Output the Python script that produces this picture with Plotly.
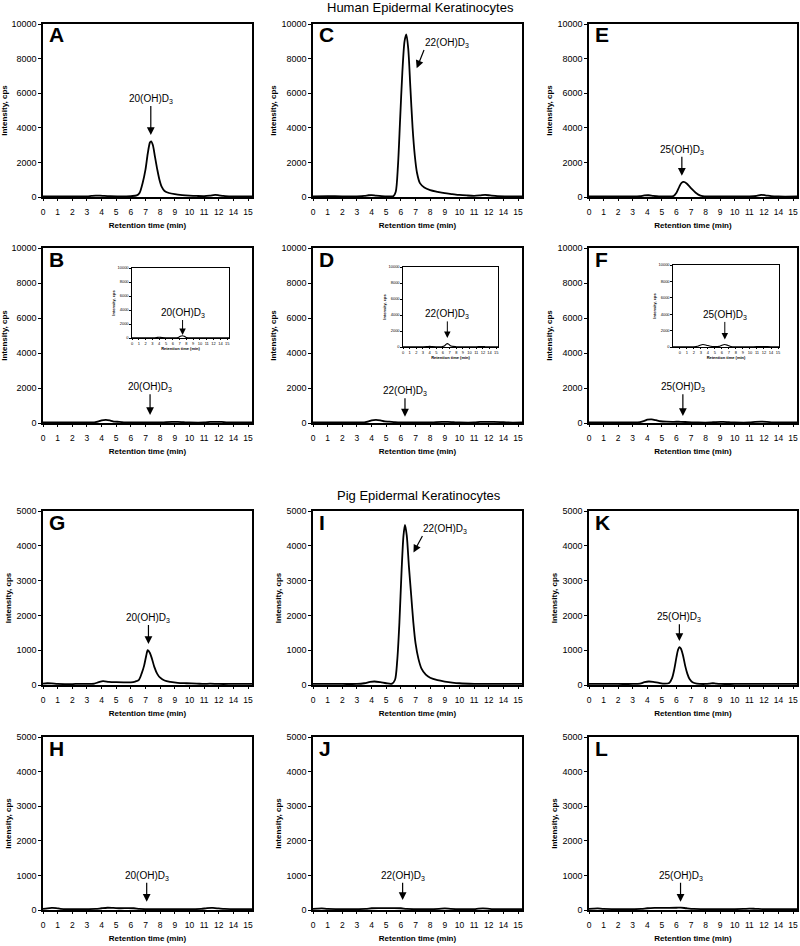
import plotly.graph_objects as go

W, H = 800, 946
FONT = "Liberation Sans, Arial, sans-serif"

# ---------------- tick labels ----------------
X_TICK_POS = list(range(15))
X_TICK_LABELS = ["0", "1", "2", "3", "4", "5", "6", "7", "8", "9", "10", "11", "12", "14", "15"]
Y_TICKS_HUMAN = [0, 2000, 4000, 6000, 8000, 10000]
Y_TICKS_PIG = [0, 1000, 2000, 3000, 4000, 5000]

# ---------------- series (x in tick-label positions, y in cps) ----------------
A_x = [0, 1, 2, 3, 3.3, 3.6, 3.9, 4.2, 4.6, 5.2, 6.0, 6.4, 6.6, 6.8, 7.0, 7.15, 7.3, 7.38, 7.5, 7.65, 7.8, 7.95, 8.1, 8.3, 8.6, 9.0, 9.5, 10.0, 10.5, 11.0, 11.4, 11.75, 12.0, 12.3, 12.7, 13.3, 14.27]
A_y = [30, 30, 30, 35, 60, 80, 75, 60, 45, 40, 55, 90, 250, 800, 1600, 2500, 3150, 3220, 3000, 2300, 1600, 1000, 600, 350, 230, 160, 110, 80, 60, 50, 80, 120, 100, 60, 40, 30, 30]

C_x = [0, 1, 2, 3, 3.5, 3.8, 4.0, 4.3, 4.7, 5.2, 5.5, 5.65, 5.8, 5.95, 6.1, 6.25, 6.37, 6.5, 6.65, 6.8, 6.95, 7.1, 7.3, 7.6, 8.0, 8.5, 9.0, 9.5, 10.0, 10.5, 11.0, 11.4, 11.75, 12.1, 12.6, 13.2, 14.27]
C_y = [40, 50, 40, 40, 60, 100, 110, 80, 50, 40, 60, 300, 1800, 4500, 7200, 9000, 9400, 8600, 6300, 4000, 2400, 1400, 800, 550, 400, 300, 220, 170, 120, 90, 70, 90, 120, 90, 50, 40, 40]

E_x = [0, 1, 2, 3, 3.5, 3.8, 4.1, 4.4, 4.8, 5.4, 5.8, 6.0, 6.2, 6.35, 6.5, 6.7, 6.9, 7.1, 7.3, 7.5, 7.8, 8.2, 9, 10, 11, 11.5, 11.8, 12.1, 12.5, 13, 14.27]
E_y = [30, 30, 30, 30, 50, 90, 100, 70, 40, 30, 60, 250, 600, 820, 870, 780, 600, 420, 260, 140, 50, 30, 30, 30, 30, 60, 120, 100, 50, 30, 30]

B_x = [0, 1, 2, 3, 3.5, 3.8, 4.0, 4.3, 4.6, 4.9, 5.2, 5.6, 6.0, 7.0, 8.0, 8.4, 8.8, 9.2, 9.6, 10.0, 11.0, 11.4, 11.8, 12.2, 12.6, 13.2, 14.27]
B_y = [30, 30, 30, 30, 40, 90, 150, 180, 140, 80, 70, 40, 30, 30, 30, 50, 60, 60, 45, 30, 30, 60, 70, 60, 35, 30, 30]

D_x = [0, 1, 2, 3, 3.5, 3.8, 4.0, 4.3, 4.6, 4.9, 5.2, 5.6, 6.0, 7.0, 8.0, 8.4, 8.8, 9.2, 9.6, 10.0, 11.0, 11.4, 11.8, 12.2, 12.8, 13.3, 14.27]
D_y = [30, 30, 30, 30, 40, 90, 150, 180, 150, 90, 75, 45, 30, 30, 30, 50, 60, 60, 45, 30, 30, 60, 70, 65, 55, 30, 30]

F_x = [0, 1, 2, 3, 3.5, 3.8, 4.0, 4.3, 4.6, 4.9, 5.3, 5.8, 6.3, 6.8, 7.5, 8.3, 8.7, 9.2, 9.6, 10.0, 11.0, 11.4, 11.8, 12.2, 12.6, 13.2, 14.27]
F_y = [30, 30, 30, 30, 50, 120, 190, 210, 160, 100, 75, 70, 70, 50, 30, 30, 55, 60, 45, 30, 30, 70, 80, 70, 35, 30, 30]

G_x = [0, 0.3, 0.6, 1.0, 1.5, 2, 2.5, 3.0, 3.5, 3.8, 4.1, 4.5, 5.0, 5.5, 6.0, 6.3, 6.55, 6.75, 6.9, 7.05, 7.15, 7.3, 7.45, 7.6, 7.8, 8.0, 8.3, 8.7, 9.2, 9.8, 10.5, 11.0, 11.4, 12, 13, 14.27]
G_y = [40, 50, 45, 30, 25, 25, 35, 30, 40, 80, 110, 90, 80, 75, 75, 100, 150, 350, 550, 850, 1000, 920, 740, 520, 320, 210, 130, 90, 60, 50, 40, 30, 40, 30, 30, 30]

I_x = [0, 1, 2, 3, 3.5, 3.9, 4.2, 4.6, 5.0, 5.4, 5.6, 5.75, 5.9, 6.05, 6.18, 6.28, 6.4, 6.55, 6.7, 6.85, 7.0, 7.2, 7.4, 7.7, 8.0, 8.5, 9.0, 9.5, 10, 11, 12, 13, 14.27]
I_y = [30, 30, 30, 30, 50, 90, 100, 80, 50, 40, 150, 700, 1800, 3300, 4300, 4600, 4300, 3400, 2600, 1800, 1200, 750, 480, 300, 210, 140, 100, 70, 50, 35, 30, 30, 30]

K_x = [0, 1, 2, 3, 3.5, 3.8, 4.1, 4.4, 4.8, 5.2, 5.5, 5.7, 5.85, 6.0, 6.1, 6.2, 6.3, 6.45, 6.6, 6.75, 6.9, 7.1, 7.4, 8.0, 8.3, 8.5, 8.7, 9.0, 10, 11, 12, 13, 14.27]
K_y = [30, 30, 30, 30, 40, 80, 100, 90, 60, 40, 60, 200, 450, 800, 1000, 1090, 1050, 850, 550, 320, 170, 80, 40, 30, 40, 50, 40, 30, 30, 30, 30, 30, 30]

H_x = [0, 0.3, 0.6, 0.9, 1.2, 2, 3, 3.6, 4.0, 4.4, 4.8, 5.3, 5.8, 6.2, 6.6, 7, 8, 9, 10, 10.8, 11.2, 11.6, 12.0, 12.4, 13, 14.27]
H_y = [30, 50, 60, 55, 30, 25, 25, 30, 50, 65, 60, 50, 55, 50, 30, 25, 25, 25, 25, 30, 55, 60, 45, 30, 25, 25]

J_x = [0, 0.3, 0.6, 1.0, 2, 3, 3.6, 4.0, 4.5, 5.0, 5.5, 6.0, 6.4, 7, 8, 8.6, 9.0, 9.4, 10, 11, 11.3, 11.6, 11.9, 12.3, 13, 14.27]
J_y = [30, 40, 45, 30, 25, 25, 30, 50, 55, 55, 55, 50, 30, 25, 25, 35, 45, 35, 25, 25, 40, 45, 40, 25, 25, 25]

L_x = [0, 0.3, 0.6, 1.0, 2, 3, 3.6, 4.0, 4.5, 5.0, 5.5, 6.0, 6.3, 6.7, 7.2, 8, 9, 10, 10.6, 11.0, 11.4, 12, 13, 14.27]
L_y = [30, 40, 45, 30, 25, 25, 30, 50, 60, 60, 60, 65, 70, 50, 30, 25, 25, 25, 30, 40, 35, 25, 25, 25]

Bi_x = [0, 1, 2, 3, 3.6, 4.0, 4.4, 5.0, 6.0, 6.8, 7.1, 7.4, 7.7, 8.0, 9, 10, 11, 12, 13, 14.27]
Bi_y = [30, 30, 30, 30, 60, 110, 70, 40, 30, 80, 250, 330, 250, 70, 30, 30, 30, 30, 30, 30]

Di_x = [0, 1, 2, 3, 3.6, 4.0, 4.4, 5.0, 5.8, 6.2, 6.45, 6.66, 6.9, 7.2, 8, 9, 11, 11.6, 12.0, 12.4, 13, 14.27]
Di_y = [30, 30, 30, 30, 50, 80, 60, 40, 40, 120, 330, 420, 330, 120, 40, 30, 30, 50, 60, 40, 30, 30]

Fi_x = [-0.96, 0, 1, 2, 2.5, 2.9, 3.3, 3.8, 4.4, 5.0, 5.6, 6.0, 6.4, 6.8, 7.3, 8, 9, 10, 11, 12, 13, 14.14]
Fi_y = [30, 30, 30, 30, 80, 220, 300, 220, 100, 60, 80, 220, 300, 220, 60, 30, 30, 30, 40, 50, 30, 30]

# ---------------- layout geometry (pixels) ----------------
COL_L = [43, 313, 589]
COL_R = [252, 522, 797]
ROW_T = [24, 248, 511, 737]
ROW_B = [197, 423, 685, 910]
XR_MAIN = [0, 14.27]


def dom_x(l, r):
    return [l / W, r / W]


def dom_y(t, b):
    return [1 - b / H, 1 - t / H]


panels = [
    # key, x, y, row, col, ymax, yticks, label(text, tailx, taily, tipx, tipy, xanchor)
    ("A", A_x, A_y, 0, 0, 10000, Y_TICKS_HUMAN, ("20(OH)D<sub>3</sub>", 7.36, 5260, 7.36, 3584, "center")),
    ("C", C_x, C_y, 0, 1, 10000, Y_TICKS_HUMAN, ("22(OH)D<sub>3</sub>", 7.58, 8497, 7.08, 7439, "left")),
    ("E", E_x, E_y, 0, 2, 10000, Y_TICKS_HUMAN, ("25(OH)D<sub>3</sub>", 6.37, 2329, 6.37, 1231, "center")),
    ("B", B_x, B_y, 1, 0, 10000, Y_TICKS_HUMAN, ("20(OH)D<sub>3</sub>", 7.31, 1650, 7.31, 457, "center")),
    ("D", D_x, D_y, 1, 1, 10000, Y_TICKS_HUMAN, ("22(OH)D<sub>3</sub>", 6.28, 1410, 6.28, 362, "center")),
    ("F", F_x, F_y, 1, 2, 10000, Y_TICKS_HUMAN, ("25(OH)D<sub>3</sub>", 6.44, 1650, 6.44, 400, "center")),
    ("G", G_x, G_y, 2, 0, 5000, Y_TICKS_PIG, ("20(OH)D<sub>3</sub>", 7.2, 1724, 7.2, 1178, "center")),
    ("I", I_x, I_y, 2, 1, 5000, Y_TICKS_PIG, ("22(OH)D<sub>3</sub>", 7.47, 4282, 6.86, 3804, "left")),
    ("K", K_x, K_y, 2, 2, 5000, Y_TICKS_PIG, ("25(OH)D<sub>3</sub>", 6.2, 1744, 6.2, 1264, "center")),
    ("H", H_x, H_y, 3, 0, 5000, Y_TICKS_PIG, ("20(OH)D<sub>3</sub>", 7.08, 789, 7.08, 240, "center")),
    ("J", J_x, J_y, 3, 1, 5000, Y_TICKS_PIG, ("22(OH)D<sub>3</sub>", 6.12, 789, 6.12, 289, "center")),
    ("L", L_x, L_y, 3, 2, 5000, Y_TICKS_PIG, ("25(OH)D<sub>3</sub>", 6.28, 789, 6.28, 240, "center")),
]

insets = [
    # x, y, (l, r, t, b) px, xrange, label
    (Bi_x, Bi_y, (132, 229, 268, 338), [0, 14.27], ("20(OH)D<sub>3</sub>", 7.44, 2571, 7.44, 430, "center")),
    (Di_x, Di_y, (403, 498, 267, 347), [0, 14.27], ("22(OH)D<sub>3</sub>", 6.66, 3200, 6.66, 1125, "center")),
    (Fi_x, Fi_y, (673, 779, 265, 347), [-0.96, 14.14], ("25(OH)D<sub>3</sub>", 6.42, 3060, 6.42, 906, "center")),
]

fig = go.Figure()
layout = dict(
    width=W, height=H, margin=dict(l=0, r=0, t=0, b=0),
    paper_bgcolor="white", plot_bgcolor="white", showlegend=False,
    template="none", font=dict(family=FONT, color="black"),
)
annotations = []


def add_label(ax_i, spec, fsize, asize, awidth):
    text, qx, qy, px_, py_, xanc = spec
    xr = "x" if ax_i == 1 else f"x{ax_i}"
    yr = "y" if ax_i == 1 else f"y{ax_i}"
    annotations.append(dict(x=px_, y=py_, ax=qx, ay=qy, xref=xr, yref=yr, axref=xr, ayref=yr,
                            text=text, xanchor=xanc, yanchor="bottom", borderpad=0,
                            font=dict(size=fsize, family=FONT, color="black"),
                            showarrow=True, arrowhead=2, arrowsize=asize,
                            arrowwidth=awidth, arrowcolor="black", standoff=0, startstandoff=0))


for i, (key, xs, ys, r, c, ymax, yt, lab) in enumerate(panels, start=1):
    xa = "xaxis" if i == 1 else f"xaxis{i}"
    ya = "yaxis" if i == 1 else f"yaxis{i}"
    fig.add_trace(go.Scatter(x=xs, y=ys, mode="lines", line=dict(color="black", width=1.8, shape="spline", smoothing=0.8),
                             xaxis="x" if i == 1 else f"x{i}", yaxis="y" if i == 1 else f"y{i}", hoverinfo="skip"))
    layout[xa] = dict(
        domain=dom_x(COL_L[c], COL_R[c]), anchor="y" if i == 1 else f"y{i}",
        range=XR_MAIN, tickvals=X_TICK_POS, ticktext=X_TICK_LABELS, tickangle=0,
        showline=True, linecolor="black", linewidth=1.5, mirror=True,
        ticks="outside", ticklen=2, tickcolor="black", showgrid=False, zeroline=False,
        tickfont=dict(size=8.5, family=FONT), ticklabelstandoff=4, automargin=False,
        title=dict(text="<b>Retention time (min)</b>", font=dict(size=8, family=FONT), standoff=6),
    )
    layout[ya] = dict(
        domain=dom_y(ROW_T[r], ROW_B[r]), anchor="x" if i == 1 else f"x{i}",
        range=[0, ymax], tickvals=yt, ticktext=[str(v) for v in yt],
        showline=True, linecolor="black", linewidth=1.5, mirror=True,
        ticks="outside", ticklen=3, tickcolor="black", showgrid=False, zeroline=False,
        tickfont=dict(size=9, family=FONT), automargin=False,
        title=dict(text="<b>Intensity, cps</b>", font=dict(size=8, family=FONT), standoff=4),
    )
    annotations.append(dict(x=(COL_L[c] + 4) / W, y=1 - (ROW_T[r] + 11) / H, xref="paper", yref="paper",
                            text=f"<b>{key}</b>", showarrow=False, xanchor="left", yanchor="middle",
                            font=dict(size=21, family=FONT, color="black")))
    add_label(i, lab, 10, 1.3, 1.2)

for j, (xs, ys, (l, rr, t, b), xr, lab) in enumerate(insets, start=13):
    fig.add_trace(go.Scatter(x=xs, y=ys, mode="lines", line=dict(color="black", width=1.1, shape="spline", smoothing=0.8),
                             xaxis=f"x{j}", yaxis=f"y{j}", hoverinfo="skip"))
    layout[f"xaxis{j}"] = dict(
        domain=dom_x(l, rr), anchor=f"y{j}", range=xr, tickvals=X_TICK_POS, ticktext=X_TICK_LABELS,
        tickangle=0,
        showline=True, linecolor="black", linewidth=1.2, mirror=True,
        ticks="outside", ticklen=1, tickcolor="black", showgrid=False, zeroline=False,
        tickfont=dict(size=4, family=FONT), automargin=False,
        title=dict(text="<b>Retention time (min)</b>", font=dict(size=4, family=FONT), standoff=2),
    )
    layout[f"yaxis{j}"] = dict(
        domain=dom_y(t, b), anchor=f"x{j}", range=[0, 10000], tickvals=Y_TICKS_HUMAN,
        ticktext=[str(v) for v in Y_TICKS_HUMAN],
        showline=True, linecolor="black", linewidth=1.2, mirror=True,
        ticks="outside", ticklen=1.5, tickcolor="black", showgrid=False, zeroline=False,
        tickfont=dict(size=4, family=FONT), automargin=False,
        title=dict(text="<b>Intensity, cps</b>", font=dict(size=4, family=FONT), standoff=2),
    )
    add_label(j, lab, 10, 1.3, 1.0)

annotations.append(dict(x=420 / W, y=1 - 8 / H, xref="paper", yref="paper", text="Human Epidermal Keratinocytes",
                        showarrow=False, xanchor="center", yanchor="middle", font=dict(size=13, family=FONT)))
annotations.append(dict(x=419 / W, y=1 - 495 / H, xref="paper", yref="paper", text="Pig Epidermal Keratinocytes",
                        showarrow=False, xanchor="center", yanchor="middle", font=dict(size=13, family=FONT)))

layout["annotations"] = annotations
fig.update_layout(**layout)
fig.write_html("out.html", config={"displayModeBar": False},
               post_script="document.body.style.margin='0';document.body.style.overflow='hidden';")
